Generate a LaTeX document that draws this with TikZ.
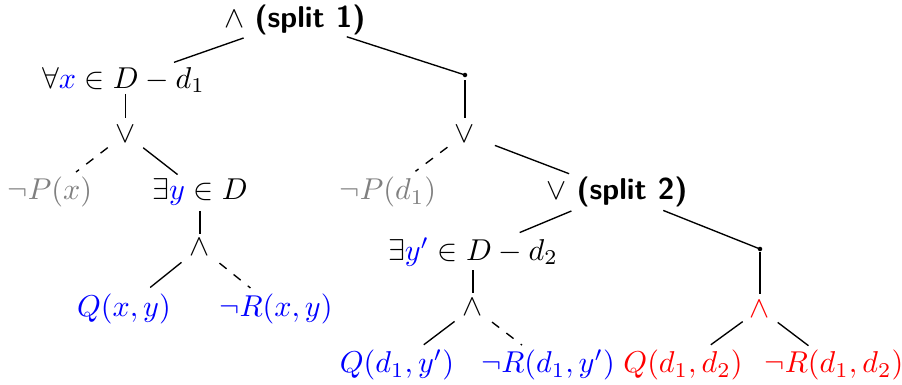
\documentclass[tikz,border=0pt]{standalone}
\begin{document}
\begin{tikzpicture}[x=0.3316pt,y=-0.3316pt,
  tnode/.style={inner sep=0pt},
  dotnode/.style={circle,fill=black,inner sep=0pt,minimum size=1.5pt},
  edge/.style={draw=black,line width=0.45pt},
  dedge/.style={edge,dashed},
  sh/.style 2 args={shorten <=#1pt, shorten >=#2pt}]
\useasboundingbox (0,0) rectangle (902,385);
% nodes
\node[tnode] (root) at (295,20) {$\wedge$ \textsf{\bfseries (split 1)}};
\node[tnode] (forall) at (123.5,80) {$\forall {\color{blue}x} \in D - d_1$};
\node[dotnode] (dot1) at (465,75) {};
\node[tnode] (vee1) at (125.5,134) {$\vee$};
\node[tnode] (vee2) at (465,134) {$\vee$};
\node[tnode,text=gray] (notPx) at (50,192) {$\neg P(x)$};
\node[tnode] (existsY) at (200,192) {$\exists {\color{blue}y} \in D$};
\node[tnode] (wedge1) at (200,247.5) {$\wedge$};
\node[tnode,text=blue] (Qxy) at (124,308.5) {$Q(x,y)$};
\node[tnode,text=blue] (notRxy) at (276,308.5) {$\neg R(x,y)$};
\node[tnode,text=gray] (notPd1) at (388,192) {$\neg P(d_1)$};
\node[tnode] (split2) at (617,192) {$\vee$ \textsf{\bfseries (split 2)}};
\node[tnode] (existsY2) at (473,252) {$\exists {\color{blue}y'} \in D - d_2$};
\node[dotnode] (dot2) at (760,249) {};
\node[tnode] (wedge2) at (473,307.5) {$\wedge$};
\node[tnode,text=red] (wedgeR) at (760,309) {$\wedge$};
\node[tnode,text=blue] (Qd1y) at (397,365) {$Q(d_1,y')$};
\node[tnode,text=blue] (notRd1y) at (548,365) {$\neg R(d_1,y')$};
\node[tnode,text=red] (Qd1d2) at (683,365) {$Q(d_1,d_2)$};
\node[tnode,text=red] (notRd1d2) at (834,365) {$\neg R(d_1,d_2)$};
% edges
\draw[edge,sh={18.04}{17.74}] (root.center) -- (forall.center);
\draw[edge,sh={18.04}{0.5}] (root.center) -- (dot1.center);
\draw[edge,sh={4.64}{5.31}] (forall.center -| vee1.center) -- (vee1.center);
\draw[edge,sh={1.66}{5.31}] (dot1.center) -- (vee2.center);
\draw[dedge,sh={7.43}{10.88}] (vee1.center) -- (notPx.center);
\draw[edge,sh={7.43}{9.42}] (vee1.center) -- (existsY.center);
\draw[edge,sh={6.30}{4.48}] (existsY.center) -- (wedge1.center);
\draw[edge,sh={7.86}{11.14}] (wedge1.center) -- (Qxy.center);
\draw[dedge,sh={8.29}{10.88}] (wedge1.center) -- (notRxy.center);
\draw[dedge,sh={7.30}{11.41}] (vee2.center) -- (notPd1.center);
\draw[edge,sh={10.61}{17.01}] (vee2.center) -- (split2.center);
\draw[edge,sh={16.38}{16.78}] (split2.center) -- (existsY2.center);
\draw[edge,sh={16.51}{0.5}] (split2.center) -- (dot2.center);
\draw[edge,sh={5.97}{4.81}] (existsY2.center) -- (wedge2.center);
\draw[edge,sh={1.0}{4.81}] (dot2.center) -- (wedgeR.center);
\draw[edge,sh={7.66}{11.14}] (wedge2.center) -- (Qd1y.center);
\draw[dedge,sh={7.93}{10.88}] (wedge2.center) -- (notRd1y.center);
\draw[edge,sh={7.10}{11.41}] (wedgeR.center) -- (Qd1d2.center);
\draw[edge,sh={7.36}{10.61}] (wedgeR.center) -- (notRd1d2.center);
\end{tikzpicture}
\end{document}
